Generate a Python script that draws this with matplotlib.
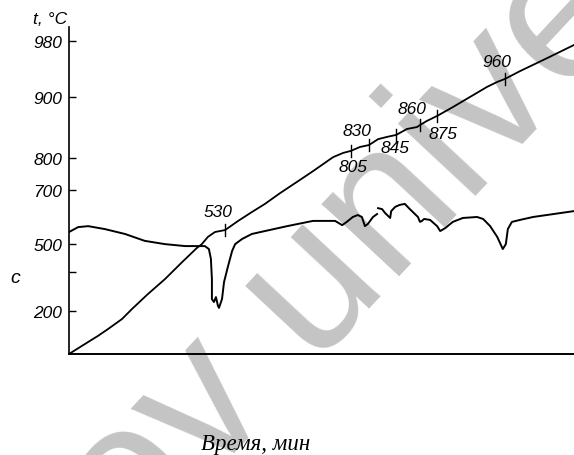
import numpy as np
import matplotlib
matplotlib.use('Agg')
import matplotlib.pyplot as plt

# heating curve (time in % of run, deflection in % of axis height)
heat_x = [0, 3.2, 5.7, 7.7, 10.5, 12.5, 15.6, 19.0, 22.4, 25.3, 26.3, 27.5, 28.9, 30.9,
          33.5, 36.2, 38.8, 41.8, 45.7, 48.3, 52.3, 54.3, 55.8, 57.6, 59.4, 61.2, 63.0,
          64.8, 66.9, 68.9, 69.5, 70.9, 72.9, 76.0, 79.4, 82.8, 84.8, 86.3, 89.3, 94.7, 100]
heat_y = [0, 3.1, 5.5, 7.6, 10.7, 13.8, 18.3, 22.9, 28.1, 32.4, 33.6, 35.8, 37.3, 37.9,
          40.7, 43.4, 45.9, 49.2, 53.2, 55.9, 60.2, 61.5, 62.1, 63.3, 63.9, 65.7, 66.4,
          67.0, 68.8, 69.4, 70.0, 71.3, 72.8, 75.5, 78.6, 81.7, 83.2, 84.1, 86.5, 90.5, 94.5]

# differential curve (nan = break in the trace)
dta_x = [0, 1.8, 3.8, 7.1, 11.1, 15.0, 19.0, 23.0, 25.5, 26.9,
         27.7, 28.1, 28.3, 28.3, 28.7, 29.1, 29.5, 29.7, 30.3, 30.7,
         31.5, 32.3, 32.9, 34.3, 36.2, 38.8, 43.2, 48.3, 52.7, 54.1,
         55.0, 56.2, 57.2, 58.0, 58.6, 59.2, 60.2, 61.0, np.nan, 61.2,
         62.0, 62.6, 63.6, 63.8, 64.6, 65.5, 66.5, 67.5, 68.5, 69.1,
         69.5, 69.9, 70.3, 71.5, 72.9, 73.5, 74.5, 76.0, 78.0, 80.8,
         82.0, 83.4, 84.8, 85.9, 86.5, 86.9, 87.7, 89.3, 91.9, 100]
dta_y = [37.3, 38.8, 39.1, 38.2, 36.7, 34.6, 33.6, 33.0, 33.0, 33.0,
         32.1, 29.1, 22.9, 16.8, 15.9, 17.4, 14.7, 14.1, 16.8, 22.0,
         26.9, 31.5, 33.6, 35.2, 36.7, 37.6, 39.1, 40.7, 40.7, 39.4,
         40.4, 41.9, 42.5, 41.9, 39.1, 39.8, 41.9, 42.8, np.nan, 44.6,
         44.3, 43.1, 41.6, 43.7, 45.0, 45.6, 45.9, 44.3, 42.8, 41.9,
         40.4, 40.7, 41.3, 41.0, 39.1, 37.6, 38.5, 40.4, 41.6, 41.9,
         41.3, 39.1, 35.8, 32.1, 33.6, 38.2, 40.4, 41.0, 41.9, 43.7]

# marked temperatures on the heating curve
mark_x = [30.9, 55.8, 59.4, 64.8, 69.5, 72.9, 86.3]
mark_labels = ['530', '805', '830', '845', '860', '875', '960']

# temperature axis ticks
tick_pos = [95.7, 78.6, 59.9, 50.2, 33.6, 25.1, 13.1]
tick_labels = ['980', '900', '800', '700', '500', '', '200']

# label offsets from the marks (x, y)
label_dx = [-1.4, 0.4, -2.4, -0.2, -1.6, 1.2, -1.5]
label_dy = [5.8, -4.9, 4.6, -4.0, 5.2, -5.5, 5.2]

num_font = dict(family='Liberation Sans', style='italic', fontsize=12.5)

fig = plt.figure(figsize=(5.74, 4.56), dpi=100)
ax = fig.add_axes([0.1202, 0.2215, 0.8798, 0.7171])

# watermark under the curves
ax.text(0.231, -0.234, 'ov unive', transform=fig.transFigure, rotation=47,
        rotation_mode='anchor', ha='left', va='baseline', fontsize=144,
        family='Liberation Sans', color='#c4c4c4', zorder=0, clip_on=False)

ax.plot(heat_x, heat_y, color='black', lw=1.3, zorder=3)
ax.plot(dta_x, dta_y, color='black', lw=1.4, zorder=3)

mark_y = np.interp(mark_x, heat_x, heat_y)
for x, y, lab, dx, dy in zip(mark_x, mark_y, mark_labels, label_dx, label_dy):
    ax.plot([x, x], [y - 1.8, y + 1.8], color='black', lw=1.0, zorder=3)
    ax.text(x + dx, y + dy, lab, ha='center', va='center', zorder=4, **num_font)

ax.set_xlim(0, 100)
ax.set_ylim(0, 100)
for side in ('top', 'right'):
    ax.spines[side].set_visible(False)
ax.spines['left'].set_linewidth(1.2)
ax.spines['bottom'].set_linewidth(1.4)

ax.set_xticks([])
ax.set_yticks(tick_pos)
ax.set_yticklabels(tick_labels, **num_font)
ax.tick_params(axis='y', direction='in', length=5, width=1.0, pad=5)

fig.text(67 / 574, 1 - 20 / 456, 't, °C', ha='right', va='center', **num_font)
fig.text(15 / 574, 1 - 279 / 456, 'с', ha='center', va='center',
         family='Liberation Sans', style='italic', fontsize=14)
fig.text(256 / 574, 1 - 445 / 456, 'Время, мин', ha='center', va='center',
         family='Liberation Serif', style='italic', fontsize=16.5)

fig.savefig('out.png', dpi=100)
